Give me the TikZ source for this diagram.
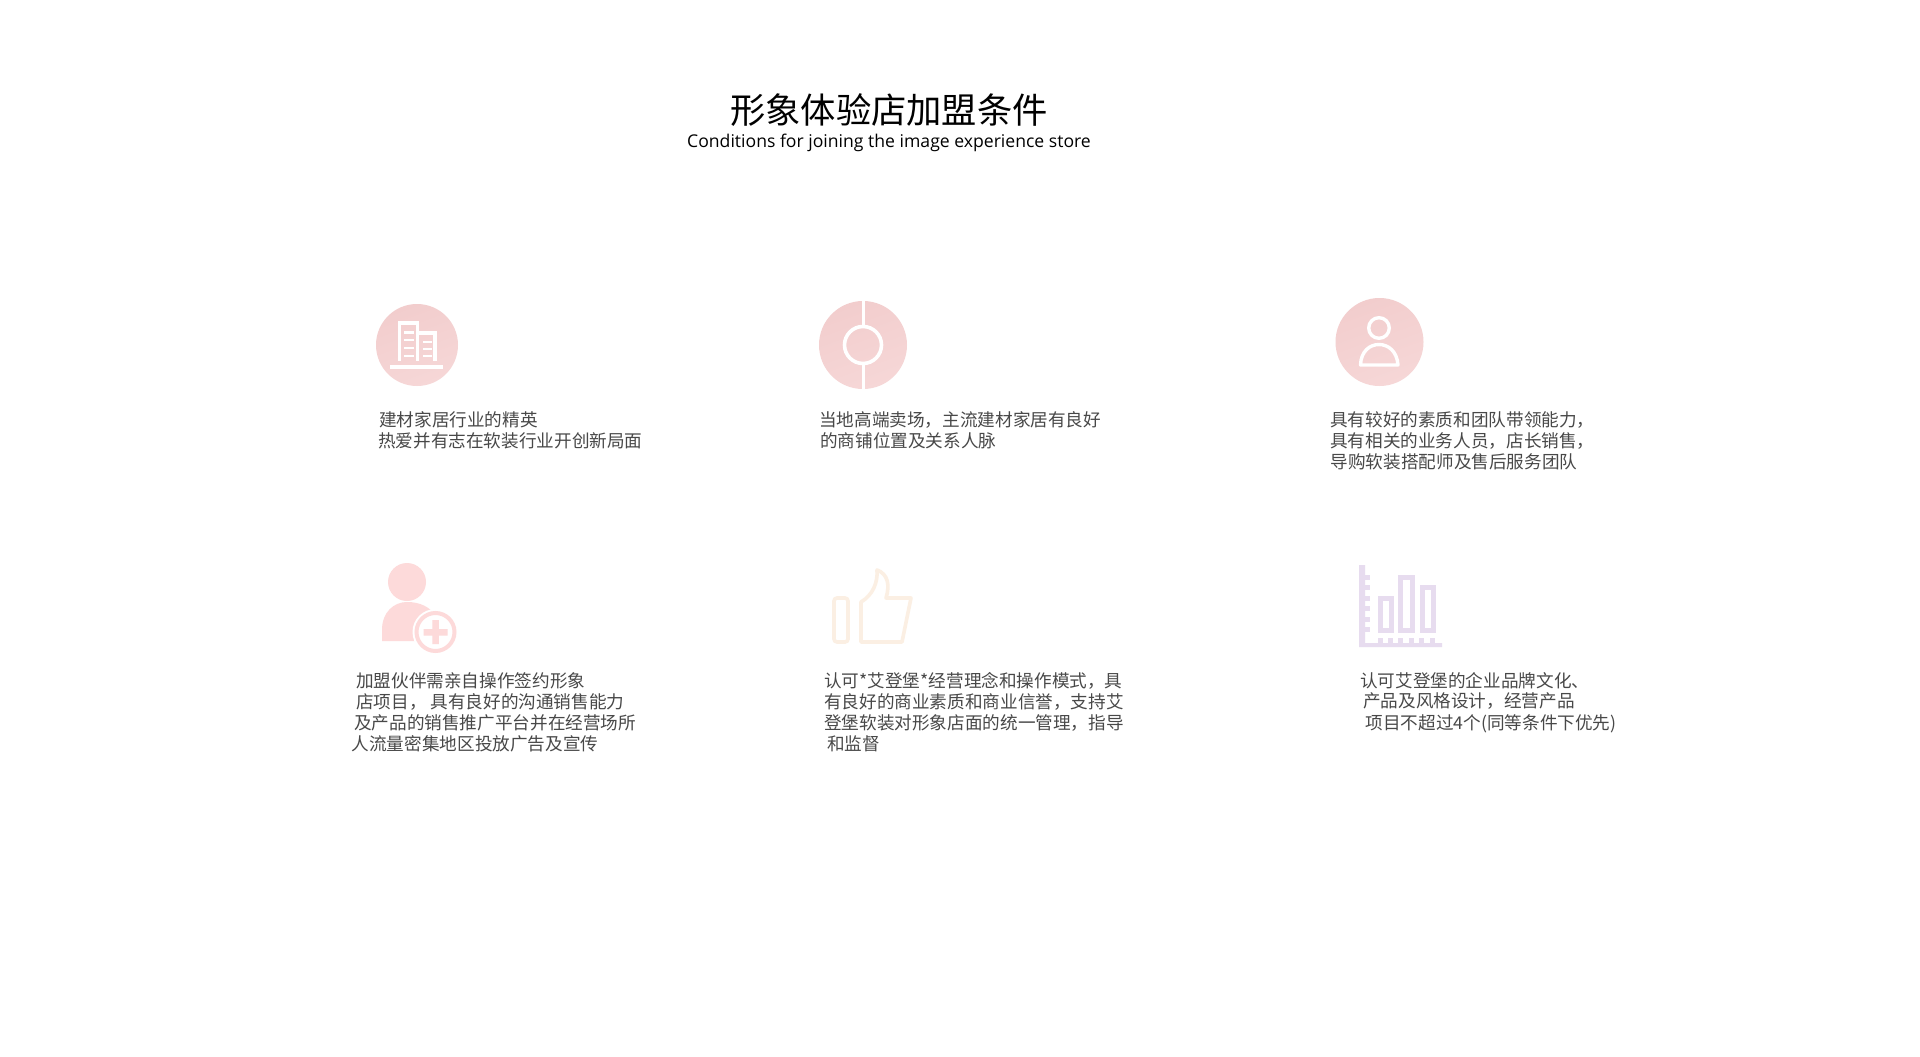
\documentclass[tikz,border=0pt]{standalone}
\usetikzlibrary{calc}
\usepackage{fontspec}
\setmainfont{Open Sans}
\newfontfamily\cjk{Noto Sans CJK SC}
\definecolor{bodytxt}{HTML}{484848}
\definecolor{discA}{HTML}{F2CDCD}
\definecolor{discB}{HTML}{F6D7D7}
\definecolor{plusP}{HTML}{FDDADA}
\definecolor{thumbC}{HTML}{FBEFE3}
\definecolor{chartC}{HTML}{E7DCEF}
\tikzset{
  bodyline/.style={anchor=west,inner sep=0pt,text=bodytxt,font=\cjk\fontsize{17.62}{20}\selectfont},
  disc/.style={circle,inner sep=0pt,minimum size=#1,shading=axis,top color=discA,bottom color=discB,shading angle=20},
  iconline/.style={draw=white,line width=3.4pt},
  bar/.style={draw=chartC,line width=5pt},
  tick/.style={fill=chartC}
}
\begin{document}
\begin{tikzpicture}[x=1pt,y=-1pt]
\useasboundingbox (0,0) rectangle (1920,1057);
\fill[white] (0,0) rectangle (1920,1057);
\node (title) at (889,110) [inner sep=0pt,font=\cjk\fontsize{35.3}{40}\selectfont,text=black] {形象体验店加盟条件};
\node (sub) at (889,142.5) [inner sep=0pt,font=\fontsize{17.6}{22}\selectfont,text=black] {Conditions for joining the image experience store};
% icon 1
\node[disc=82pt] (d1) at (417,345) {};
\draw[iconline,line width=3.2pt] (399.5,361) -- (399.5,323) -- (417.5,323) -- (417.5,361) (417.5,333) -- (435,333) -- (435,361);
\draw[iconline] (390,367) -- (443,367);
\draw[iconline,line width=2.8pt] (404,332.5) -- (414,332.5) (404,340) -- (414,340) (404,348) -- (414,348) (404,356) -- (414,356)
  (423,342) -- (432,342) (423,349) -- (432,349) (423,356) -- (432,356);
% icon 2
\node[disc=88pt] (d2) at (863,345) {};
\node[circle,draw=white,line width=3.6pt,minimum size=37pt,inner sep=0pt] (ring) at (d2) {};
\draw[white,line width=3pt] ($(d2.north)+(0,-1)$) -- (ring.north);
\draw[white,line width=3pt] (ring.south) -- ($(d2.south)+(0,1)$);
% icon 3
\node[disc=88pt] (d3) at (1379.5,342) {};
\draw[iconline] (1379,328) circle (10.3);
\draw[iconline,line join=round] (1360.5,365) .. controls (1361,351) and (1370,344.5) .. (1379,344.5) .. controls (1388,344.5) and (1397,351) .. (1398,365) -- cycle;
% icon 4
\fill[plusP] (407,582) circle (19);
\fill[plusP] (382,641) -- (382,630) .. controls (382,612) and (394,602) .. (407,602) .. controls (420,602) and (430,607) .. (436,616) -- (430,641) -- cycle;
\fill[white] (435.5,632) circle (23);
\draw[plusP,line width=4pt] (435.5,632) circle (19);
\fill[plusP] (423.5,629) rectangle (447.5,635.5) (432.3,620) rectangle (438.8,644);
% icon 5
\draw[thumbC,line width=3.6pt,rounded corners=3pt] (834,598) rectangle (848,642);
\draw[thumbC,line width=3.6pt,line join=round] (861,642) -- (902,642) -- (911,598) -- (886,598)
  .. controls (890,585) and (888,574) .. (877,570) .. controls (878,582) and (873,595) .. (861,602) -- cycle;
% icon 6
\fill[tick] (1359,565) rectangle (1365,647) (1359,643) rectangle (1442,647);
\foreach \yy in {577,587.5,598,608,619,629.5}{\fill[tick] (1365,\yy-2.5) rectangle (1370,\yy+2.5);}
\foreach \xx in {1380.5,1390.5,1400.5,1411,1421.5,1432.5}{\fill[tick] (\xx-2.5,638) rectangle (\xx+2.5,643);}
\draw[bar] (1380.5,598) rectangle (1391.5,630);
\draw[bar] (1400.5,577) rectangle (1412,630);
\draw[bar] (1422,587) rectangle (1433,630);
% text row 1
\node[bodyline] (a1) at (379,420) {建材家居行业的精英};
\node[bodyline] (a2) at (378,441) {热爱并有志在软装行业开创新局面};
\node[bodyline] (b1) at (819,420) {当地高端卖场，主流建材家居有良好};
\node[bodyline] (b2) at (820,441) {的商铺位置及关系人脉};
\node[bodyline] (c1) at (1330,420) {具有较好的素质和团队带领能力，};
\node[bodyline] (c2) at (1330,441) {具有相关的业务人员，店长销售，};
\node[bodyline] (c3) at (1330.5,462) {导购软装搭配师及售后服务团队};
% text row 2
\node[bodyline] (e1) at (356,680.5) {加盟伙伴需亲自操作签约形象};
\node[bodyline] (e2) at (356,701.5) {店项目， 具有良好的沟通销售能力};
\node[bodyline] (e3) at (354,723) {及产品的销售推广平台并在经营场所};
\node[bodyline] (e4) at (351.5,744) {人流量密集地区投放广告及宣传};
\node[bodyline] (f1) at (824,680.5) {认可*艾登堡*经营理念和操作模式，具};
\node[bodyline] (f2) at (824,701.5) {有良好的商业素质和商业信誉，支持艾};
\node[bodyline] (f3) at (824,723) {登堡软装对形象店面的统一管理，指导};
\node[bodyline] (f4) at (827,744) {和监督};
\node[bodyline] (g1) at (1360,680.5) {认可艾登堡的企业品牌文化、};
\node[bodyline] (g2) at (1363,701.5) {产品及风格设计，经营产品};
\node[bodyline] (g3) at (1365.5,723.5) {项目不超过4个(同等条件下优先)};
\end{tikzpicture}
\end{document}
